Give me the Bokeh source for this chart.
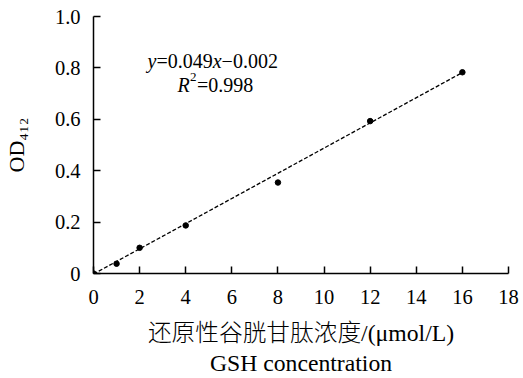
from bokeh.plotting import figure
from bokeh.models import Range1d, FixedTicker, Label
from bokeh.embed import file_html
from bokeh.resources import INLINE

# ---- data ----
gsh_conc = [0, 1, 2, 4, 8, 12, 16]
od412 = [0.0, 0.038, 0.100, 0.187, 0.354, 0.593, 0.783]
fit_slope = 0.049
fit_intercept = -0.002
x_ticks = [0, 2, 4, 6, 8, 10, 12, 14, 16, 18]
y_ticks = [0, 0.2, 0.4, 0.6, 0.8, 1.0]
y_tick_labels = ["0", "0.2", "0.4", "0.6", "0.8", "1.0"]

SERIF = "'Liberation Serif', 'Times New Roman', 'DejaVu Serif', serif"
MIXED = "'Liberation Serif', 'Times New Roman', 'Noto Sans CJK SC Light', 'Noto Sans CJK SC', serif"

W, H = 523, 378
p = figure(width=W, height=H, output_backend="svg", toolbar_location=None,
           x_range=Range1d(0, 18), y_range=Range1d(0, 1.0),
           min_border_left=92, min_border_right=15, min_border_top=16,
           min_border_bottom=104)
p.background_fill_color = "white"
p.border_fill_color = "white"
p.outline_line_color = None
p.grid.visible = False

for ax in (p.xaxis, p.yaxis):
    ax.axis_line_color = "black"
    ax.axis_line_width = 1.5
    ax.major_tick_line_color = "black"
    ax.major_tick_line_width = 1.5
    ax.major_tick_in = 7
    ax.major_tick_out = 0
    ax.minor_tick_line_color = None
    ax.major_label_text_font = SERIF
    ax.major_label_text_font_size = "20.5px"
    ax.major_label_text_color = "black"
    ax.axis_label_text_color = "black"
    ax.axis_label_text_font_style = "normal"

p.xaxis.ticker = FixedTicker(ticks=x_ticks)
p.yaxis.ticker = FixedTicker(ticks=y_ticks)
p.yaxis.major_label_overrides = {t: s for t, s in zip(y_ticks, y_tick_labels)}
p.xaxis.major_label_standoff = 16
p.yaxis.major_label_standoff = 13

p.xaxis.axis_label = "还原性谷胱甘肽浓度/(μmol/L)\nGSH concentration"
p.xaxis.axis_label_text_font = MIXED
p.xaxis.axis_label_text_font_size = "23.7px"
p.xaxis.axis_label_standoff = 13
p.xaxis.axis_label_text_line_height = 1.17

p.yaxis.axis_label = "OD\u2084\u2081\u2082"
p.yaxis.axis_label_text_font = SERIF
p.yaxis.axis_label_text_font_size = "22px"
p.yaxis.axis_label_standoff = 23

# fit line (from the equation coefficients, over the data span)
fx = [min(gsh_conc), max(gsh_conc)]
fy = [fit_slope * v + fit_intercept for v in fx]
p.line(fx, fy, line_color="black", line_width=1.3, line_dash="4 2")
p.scatter(gsh_conc, od412, size=5.5, fill_color="black", line_color="black")

def lab(text, x, y, size, style="normal", font=SERIF):
    p.add_layout(Label(x=x, y=y, x_units="screen", y_units="screen", text=text,
                       text_font=font, text_font_size=size, text_font_style=style,
                       text_color="black", text_align="left",
                       text_baseline="alphabetic"))

# equation (screen units relative to the plot frame)
eb = 213
lab("y", 54, eb, "20px", "italic")
lab("=0.049", 62.9, eb, "20px")
lab("x", 119.2, eb, "20px", "italic")
lab("\u22120.002", 128.1, eb, "20px")
rb = 189
lab("R", 84, rb, "20px", "italic")
lab("2", 96.5, rb + 8, "13px")
lab("=0.998", 103.5, rb, "20px")

open("out.html", "w").write(file_html(p, INLINE))
